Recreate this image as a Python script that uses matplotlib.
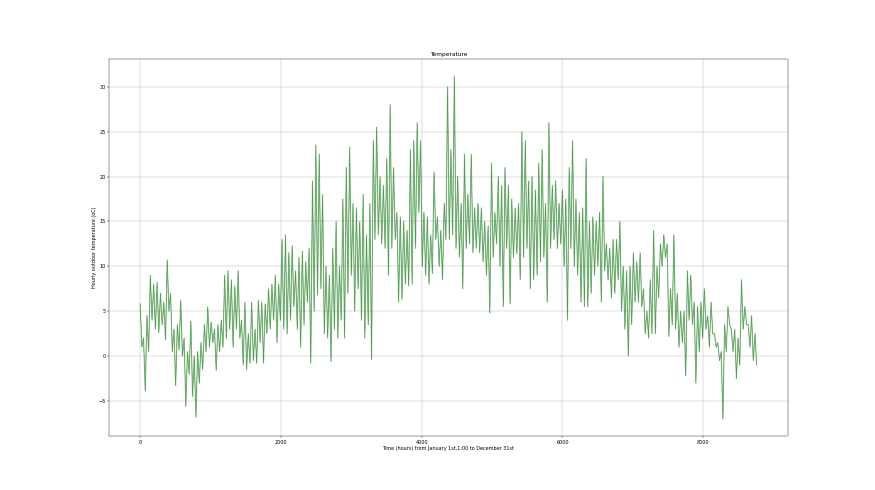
import numpy as np
import matplotlib
matplotlib.use("Agg")
import matplotlib.pyplot as plt

# Approximate daily high / low pairs (about every 48 h)
temp_high = [
    5.8, 2.0, 4.5, 9.0, 8.0, 8.2, 7.0, 6.0, 10.7, 7.0, 3.0, 3.5, 6.2, 2.0, 0.5, 3.9, 0.0, 0.5, 1.5, 3.5,
    5.5, 3.8, 3.0, 3.5, 4.0, 9.0, 9.5,
    8.5, 7.8, 9.5, 4.0, 6.0, 2.5, 6.0, 3.0, 6.2, 6.0, 5.8, 7.5, 8.0, 9.0, 8.0, 13.0, 13.5, 11.5, 12.3, 9.5,
    11.0, 11.7, 10.5, 12.0, 19.5, 23.5, 22.5, 18.0,
    10.0, 9.0, 12.0, 15.0, 10.0, 17.5, 21.0, 23.3, 17.0, 16.5, 15.0, 18.0, 13.5, 17.0, 24.0, 25.5, 20.0, 19.0,
    22.0, 28.0, 21.0, 16.0, 15.5, 15.0, 14.0, 23.0, 24.0, 26.0,
    24.0, 16.0, 15.5, 13.5, 20.5, 15.5, 14.0, 17.0, 30.0, 23.0, 31.2, 20.0, 17.0, 22.5, 18.0, 22.5, 16.5, 17.0,
    16.5, 15.0, 14.5, 21.5, 16.0, 20.0, 19.0, 21.0, 19.0, 17.5,
    16.5, 17.0, 25.0, 24.0, 19.5, 20.0, 18.5, 21.5, 23.0, 17.0, 26.0, 19.0, 19.5, 17.0, 18.5, 17.5, 21.0, 24.0,
    17.5, 16.0, 16.5, 22.0, 15.0, 15.5, 15.0, 16.0, 20.0, 12.5,
    12.0, 13.0, 13.0, 15.0, 10.0, 9.5, 10.0, 11.5, 10.5, 11.5, 7.5, 5.0, 8.5, 14.0, 10.0, 12.5, 13.5, 12.5,
    7.5, 13.5, 7.0, 5.0, 5.0, 9.5, 9.0, 6.0, 5.5, 6.0,
    7.5, 4.5, 6.0, 2.5, 1.5, 0.5, 3.5, 5.5, 3.0, 3.0, 2.0, 8.5, 5.5, 3.5, 4.5, 2.5,
]
temp_low = [
    1.0, -3.9, 0.5, 4.0, 3.0, 2.6, 3.5, 1.8, 5.0, 0.5, -3.3, 0.7, 0.0, -5.6, -2.0, -4.5, -6.8, -3.0, -1.5, 0.5,
    1.0, 1.5, -1.6, 0.5, 1.0, 2.0, 3.0,
    1.0, 3.0, 2.0, -1.0, -1.5, -0.8, -0.5, -0.8, 1.5, -0.8, 2.5, 3.0, 4.0, 1.5, 4.0, 3.0, 2.5, 4.0, 5.5, 3.0,
    1.0, 3.5, 6.0, -0.8, 5.0, 6.8, 7.5, 2.5,
    2.0, -0.6, 3.0, 2.0, 4.0, 2.0, 7.0, 9.0, 5.0, 7.5, 4.0, 2.0, 3.5, -0.4, 13.0, 13.5, 12.5, 12.0,
    9.0, 12.0, 13.0, 6.0, 6.3, 8.0, 7.8, 8.0, 12.0, 16.0,
    10.0, 9.0, 8.0, 9.2, 13.0, 10.0, 8.5, 13.0, 13.0, 13.5, 12.0, 11.0, 7.5, 12.0, 12.5, 11.5, 12.0, 11.5,
    10.5, 9.0, 4.8, 11.0, 12.5, 10.0, 5.5, 12.0, 5.8, 11.0,
    11.4, 8.5, 11.0, 12.0, 7.5, 8.5, 9.0, 10.5, 11.0, 6.0, 12.0, 13.0, 12.0, 12.5, 10.0, 4.0, 12.0, 10.0,
    9.0, 6.0, 5.5, 5.5, 7.0, 9.0, 10.0, 6.0, 9.5, 8.5,
    6.5, 7.0, 8.5, 5.0, 3.0, 0.0, 3.5, 6.0, 6.0, 5.5, 2.5, 2.0, 2.5, 2.5, 6.5, 10.0, 11.0, 2.2,
    3.5, 3.0, 1.0, 1.5, -2.2, 4.0, 3.5, -3.0, 0.5, 2.0,
    3.0, 1.0, 2.5, 1.0, -0.5, -7.0, 0.5, 3.5, 0.5, -2.5, -1.0, 3.0, 3.5, 1.0, -0.5, -1.0,
]

title_text = "Temperature"
x_label = "Time (hours) from January 1st,1:00 to December 31st"
y_label = "Hourly outdoor temperature (oC)"

temps = np.empty(2 * len(temp_high))
temps[0::2] = temp_high
temps[1::2] = temp_low
hours = np.linspace(0, 8759, len(temps))

fig = plt.figure(figsize=(25, 14), dpi=35)
ax = fig.add_subplot(111)
ax.plot(hours, temps, color="#117a11", linewidth=2.4, alpha=0.45)
ax.plot(hours, temps, color="#0a6a0a", linewidth=0.6, alpha=0.8)
ax.set_title(title_text)
ax.set_xlabel(x_label)
ax.set_ylabel(y_label)
ax.grid(True)
fig.savefig("out.png", dpi=35)
